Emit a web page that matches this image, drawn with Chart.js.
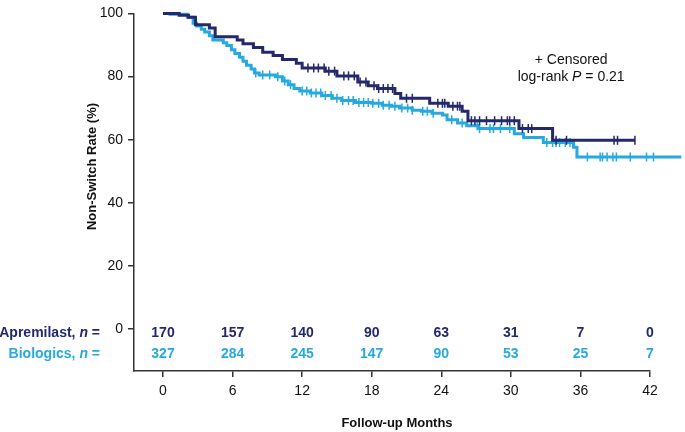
<!DOCTYPE html>
<html>
<head>
<meta charset="utf-8">
<script src="https://cdn.jsdelivr.net/npm/chart.js@4.4.0/dist/chart.umd.min.js"></script>
<style>
  html, body { margin: 0; padding: 0; background: #fff; }
</style>
</head>
<body>
<canvas id="km" width="685" height="432"></canvas>
<script>
// Kaplan-Meier steps: month of each drop and the rate after it (%)
const apremilastMonths = [0, 1.4, 2.2, 2.8, 4.0, 4.5, 6.4, 6.9, 7.8, 8.6, 9.5, 10.3, 11.5, 12.0, 14.0, 15.0, 16.8, 17.7, 18.5, 20.0, 20.5, 23.0, 24.6, 25.8, 26.3, 30.7, 33.6, 40.7];
const apremilastRates = [100, 99.4, 98.8, 96.4, 95.4, 92.6, 91.6, 90.4, 89.2, 87.7, 86.7, 85.4, 84.2, 82.7, 81.7, 80.2, 78.3, 77.1, 76.2, 74.6, 73.1, 71.5, 70.6, 69.0, 66.0, 63.5, 59.8, 59.8];

const biologicsMonths = [0, 0.6, 2.1, 2.6, 2.9, 3.3, 3.6, 4.0, 4.3, 5.2, 5.5, 5.9, 6.2, 6.6, 6.9, 7.2, 7.6, 7.9, 8.3, 9.7, 10.3, 10.8, 11.3, 11.8, 12.7, 13.7, 14.6, 15.4, 16.6, 18.0, 18.9, 19.7, 20.4, 21.5, 22.3, 23.2, 24.1, 24.5, 25.4, 26.2, 27.2, 30.3, 31.1, 32.8, 35.4, 35.7, 44.7];
const biologicsRates = [100, 99.7, 98.8, 96.9, 96.0, 95.0, 94.1, 92.9, 91.6, 90.7, 89.8, 88.5, 87.3, 86.1, 84.8, 83.6, 82.4, 81.1, 80.5, 79.9, 78.6, 77.4, 76.2, 75.4, 74.8, 74.0, 73.1, 72.4, 71.8, 71.5, 70.9, 70.6, 70.0, 69.3, 69.0, 68.4, 67.8, 66.3, 65.3, 64.4, 63.5, 61.9, 60.7, 59.1, 57.6, 54.5, 54.5];

// censored observations (months)
const apremilastCensored = [12.5, 13.0, 13.4, 13.9, 14.3, 14.8, 15.6, 16.0, 16.5, 17.0, 17.5, 18.2, 18.6, 19.0, 19.4, 19.8, 21.0, 21.5, 23.7, 24.1, 24.3, 25.0, 25.4, 25.6, 26.6, 26.9, 27.3, 27.9, 28.6, 29.2, 29.7, 29.9, 30.3, 31.0, 31.5, 31.8, 33.9, 34.8, 38.9, 39.2, 40.7];
const biologicsCensored = [8.0, 8.6, 9.2, 9.9, 10.5, 11.0, 12.0, 12.4, 12.8, 13.2, 13.6, 14.0, 14.5, 15.0, 15.5, 16.0, 16.4, 16.9, 17.3, 17.7, 18.1, 18.6, 19.0, 19.5, 20.0, 20.6, 21.1, 21.5, 22.4, 22.8, 23.3, 24.9, 25.8, 27.1, 27.3, 28.2, 28.5, 29.1, 29.9, 33.1, 33.6, 33.9, 34.2, 34.7, 35.1, 36.6, 37.7, 37.9, 38.3, 38.8, 39.1, 40.3, 41.7, 42.3, 42.6, 43.1, 43.7, 44.4];

// number at risk
const riskMonths = [0, 6, 12, 18, 24, 30, 36, 42];
const apremilastAtRisk = [170, 157, 140, 90, 63, 31, 7, 0];
const biologicsAtRisk = [327, 284, 245, 147, 90, 53, 25, 7];

const xTicks = [0, 6, 12, 18, 24, 30, 36, 42];
const yTicks = [0, 20, 40, 60, 80, 100];

const navy = '#25286a';
const sky = '#26a9e0';
const axisColor = '#333333';
const fontFamily = '"Liberation Sans", Arial, Helvetica, sans-serif';

function stepAt(months, rates, t) {
  let v = rates[0];
  for (let i = 0; i < months.length; i++) {
    if (months[i] <= t) v = rates[i];
  }
  return v;
}

function curve(months, rates) {
  return months.map((m, i) => ({ x: m, y: rates[i] }));
}

function censorPoints(times, months, rates) {
  return times.map(t => ({ x: t, y: stepAt(months, rates, t) }));
}

// draws pieces of text with different fonts on one line
function drawRuns(ctx, runs, x, y, align) {
  let total = 0;
  runs.forEach(r => { ctx.font = r.font; total += ctx.measureText(r.text).width; });
  let cx = align === 'right' ? x - total : align === 'center' ? x - total / 2 : x;
  ctx.textAlign = 'left';
  runs.forEach(r => {
    ctx.font = r.font;
    ctx.fillText(r.text, cx, y);
    cx += ctx.measureText(r.text).width;
  });
}

const textPlugin = {
  id: 'kmText',
  afterDraw(chart) {
    const ctx = chart.ctx;
    const xs = chart.scales.x;
    const ys = chart.scales.y;
    ctx.save();
    ctx.textBaseline = 'middle';

    // y axis title
    ctx.save();
    ctx.translate(92, ys.getPixelForValue(51.5));
    ctx.rotate(-Math.PI / 2);
    ctx.fillStyle = '#111';
    ctx.font = 'bold 13px ' + fontFamily;
    ctx.textAlign = 'center';
    ctx.fillText('Non-Switch Rate (%)', 0, 0);
    ctx.restore();

    // x axis title
    ctx.fillStyle = '#111';
    ctx.font = 'bold 13px ' + fontFamily;
    ctx.textAlign = 'center';
    ctx.fillText('Follow-up Months', 397, 423);

    // number at risk table
    const rowA = ys.getPixelForValue(-1.3);
    const rowB = ys.getPixelForValue(-7.8);
    const b = 'bold 14px ' + fontFamily;
    const bi = 'italic bold 14px ' + fontFamily;
    ctx.fillStyle = navy;
    drawRuns(ctx, [{ text: 'Apremilast, ', font: b }, { text: 'n', font: bi }, { text: ' =', font: b }], 100, rowA, 'right');
    ctx.fillStyle = sky;
    drawRuns(ctx, [{ text: 'Biologics, ', font: b }, { text: 'n', font: bi }, { text: ' =', font: b }], 100, rowB, 'right');
    ctx.font = b;
    ctx.textAlign = 'center';
    riskMonths.forEach((m, i) => {
      const px = xs.getPixelForValue(m);
      ctx.fillStyle = navy;
      ctx.fillText(String(apremilastAtRisk[i]), px, rowA);
      ctx.fillStyle = sky;
      ctx.fillText(String(biologicsAtRisk[i]), px, rowB);
    });

    // legend note
    const nx = xs.getPixelForValue(35.2);
    const r = '14px ' + fontFamily;
    const ri = 'italic 14px ' + fontFamily;
    ctx.fillStyle = '#111';
    drawRuns(ctx, [{ text: '+ Censored', font: r }], nx, ys.getPixelForValue(85.3), 'center');
    drawRuns(ctx, [{ text: 'log-rank ', font: r }, { text: 'P', font: ri }, { text: ' = 0.21', font: r }], nx, ys.getPixelForValue(79.8), 'center');
    ctx.restore();
  }
};

new Chart(document.getElementById('km'), {
  type: 'line',
  data: {
    datasets: [
      {
        label: 'Apremilast',
        data: curve(apremilastMonths, apremilastRates),
        borderColor: navy,
        borderWidth: 3,
        stepped: true,
        pointRadius: 0,
        fill: false,
        clip: false
      },
      {
        type: 'scatter',
        label: 'Apremilast censored',
        data: censorPoints(apremilastCensored, apremilastMonths, apremilastRates),
        borderColor: navy,
        backgroundColor: navy,
        pointStyle: 'line',
        rotation: 90,
        pointRadius: 4.5,
        borderWidth: 1.5,
        clip: false
      },
      {
        label: 'Biologics',
        data: curve(biologicsMonths, biologicsRates),
        borderColor: sky,
        borderWidth: 3,
        stepped: true,
        pointRadius: 0,
        fill: false,
        clip: false
      },
      {
        type: 'scatter',
        label: 'Biologics censored',
        data: censorPoints(biologicsCensored, biologicsMonths, biologicsRates),
        borderColor: sky,
        backgroundColor: sky,
        pointStyle: 'line',
        rotation: 90,
        pointRadius: 4.5,
        borderWidth: 1.5,
        clip: false
      }
    ]
  },
  options: {
    responsive: false,
    animation: false,
    layout: {
      autoPadding: false,
      padding: { left: 0, top: 5, right: 35, bottom: 0 }
    },
    plugins: {
      legend: { display: false },
      tooltip: { enabled: false }
    },
    scales: {
      x: {
        type: 'linear',
        min: -2.5,
        max: 42,
        afterBuildTicks: s => { s.ticks = xTicks.map(v => ({ value: v })); },
        afterFit: s => { s.height = 61; },
        grid: { drawOnChartArea: false, drawTicks: true, tickLength: 6, color: axisColor, lineWidth: 1.5 },
        border: { display: true, color: axisColor, width: 1.5 },
        ticks: { color: '#111', padding: 6, font: { family: fontFamily, size: 14 } }
      },
      y: {
        type: 'linear',
        min: -13.3,
        max: 100,
        afterBuildTicks: s => { s.ticks = yTicks.map(v => ({ value: v })); },
        afterFit: s => { s.width = 134; },
        grid: { drawOnChartArea: false, drawTicks: true, tickLength: 6, color: axisColor, lineWidth: 1.5 },
        border: { display: true, color: axisColor, width: 1.5 },
        ticks: { color: '#111', padding: 5, font: { family: fontFamily, size: 14 } }
      }
    }
  },
  plugins: [textPlugin]
});
</script>
</body>
</html>
